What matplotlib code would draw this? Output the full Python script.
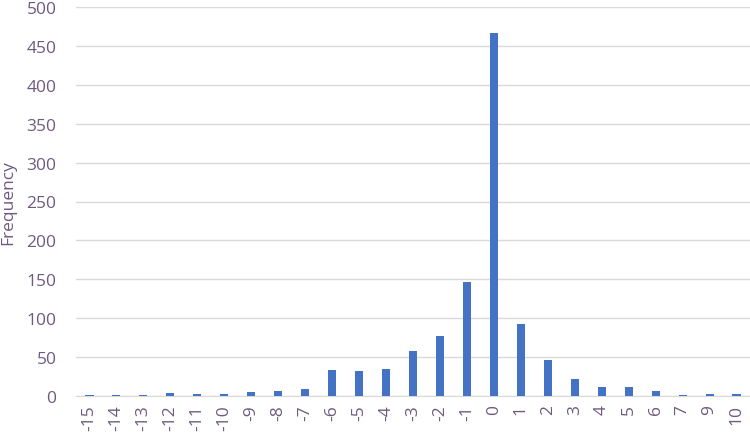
import matplotlib.pyplot as plt

categories = ['-15', '-14', '-13', '-12', '-11', '-10', '-9', '-8', '-7', '-6', '-5', '-4', '-3',
              '-2', '-1', '0', '1', '2', '3', '4', '5', '6', '7', '9', '10']
frequency = [1, 1, 1, 4, 2, 2, 5, 6, 9, 34, 32, 35, 58,
             77, 147, 466, 92, 46, 22, 11, 11, 6, 1, 3, 2]

text_color = '#6E5A80'
plt.rcParams['font.family'] = ['Open Sans', 'DejaVu Sans']

fig = plt.figure(figsize=(7.5, 4.39), dpi=100)
ax = fig.add_axes([76 / 750, 1 - 397 / 439, 674 / 750, 389 / 439])

x = list(range(len(categories)))
ax.bar(x, frequency, width=0.3, color='#4472C4', zorder=3)

ax.set_xlim(-0.5, len(categories) - 0.5)
ax.set_ylim(0, 500)
ax.set_yticks(range(0, 501, 50))
ax.set_xticks(x)
ax.set_xticklabels(categories, rotation=90)
ax.tick_params(axis='both', length=0, labelsize=12.5, colors=text_color)
ax.tick_params(axis='y', pad=14)
ax.tick_params(axis='x', pad=6)
ax.grid(axis='y', color='#D9D9D9', linewidth=1, zorder=0)
for side in ['top', 'right', 'left']:
    ax.spines[side].set_visible(False)
ax.spines['bottom'].set_color('#D9D9D9')
ax.set_ylabel('Frequency', fontsize=12.5, color=text_color)
ax.yaxis.set_label_coords(-0.088, 0.5)

fig.savefig('out.png', dpi=100)
